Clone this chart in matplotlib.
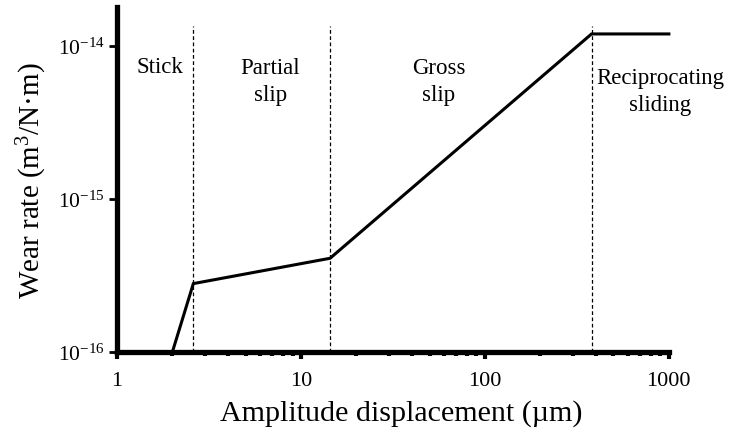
import numpy as np
import matplotlib
matplotlib.use("Agg")
import matplotlib.pyplot as plt
import matplotlib.ticker as ticker

# ── DATA ──────────────────────────────────────────────────────────────────────
amplitude = [1, 2, 2.6, 14.4, 380, 1000]                 # µm
wear_rate = [1e-16, 1e-16, 2.8e-16, 4.1e-16, 1.2e-14, 1.2e-14]  # m^3/N·m

# regime boundaries (µm)
boundaries = [2.6, 14.4, 380]

regime_names = ["Stick", "Partial\nslip", "Gross\nslip", "Reciprocating\nsliding"]
regime_x = [1.71, 6.8, 56, 900]
regime_y = [7.4e-15, 5.9e-15, 5.9e-15, 5.1e-15]

x_ticks = [1, 10, 100, 1000]
x_tick_labels = ["1", "10", "100", "1000"]
y_ticks = [1e-16, 1e-15, 1e-14]
y_tick_labels = [r"$10^{-16}$", r"$10^{-15}$", r"$10^{-14}$"]
# ─────────────────────────────────────────────────────────────────────────────

plt.rcParams["font.family"] = ["Liberation Serif", "DejaVu Serif"]
plt.rcParams["mathtext.fontset"] = "custom"
plt.rcParams["mathtext.rm"] = "Liberation Serif"
plt.rcParams["mathtext.it"] = "Liberation Serif:italic"

fig = plt.figure(figsize=(7.29, 4.35), dpi=100)
ax = fig.add_axes([0.1605, 0.1885, 0.757, 0.793])

ax.set_xscale("log")
ax.set_yscale("log")
ax.set_xlim(1, 1000)
ax.set_ylim(1e-16, 10 ** -13.745)

# dashed regime boundaries
ax.vlines(boundaries, 1e-16, 10 ** -13.87, colors="black",
          linestyles=(0, (3, 2)), linewidth=0.9)

ax.plot(amplitude, wear_rate, color="black", linewidth=2.2,
        solid_joinstyle="miter", clip_on=False, zorder=3)

for name, xx, yy in zip(regime_names, regime_x, regime_y):
    ax.text(xx, yy, name, ha="center", va="center", fontsize=16.5,
            linespacing=1.35)

# axes styling
for side in ["top", "right"]:
    ax.spines[side].set_visible(False)
for side in ["left", "bottom"]:
    ax.spines[side].set_linewidth(3.8)
    ax.spines[side].set_zorder(4)

ax.set_xticks(x_ticks)
ax.set_xticklabels(x_tick_labels)
ax.xaxis.set_minor_locator(ticker.LogLocator(base=10, subs=np.arange(2, 10)))
ax.xaxis.set_minor_formatter(ticker.NullFormatter())
ax.set_yticks(y_ticks)
ax.set_yticklabels(y_tick_labels)
ax.yaxis.set_minor_locator(ticker.NullLocator())

ax.tick_params(axis="x", which="major", direction="out", length=5, width=3,
               labelsize=16, pad=9)
ax.tick_params(axis="x", which="minor", direction="out", length=3, width=3)
ax.tick_params(axis="y", which="major", direction="out", length=6, width=2,
               labelsize=15.5, pad=3)

ax.set_xlabel("Amplitude displacement (µm)", fontsize=21.6, labelpad=4)
ax.xaxis.set_label_coords(0.515, -0.135)
ax.set_ylabel("Wear rate (m$^3$/N·m)", fontsize=21, labelpad=6)

fig.savefig("out.png", dpi=100)
